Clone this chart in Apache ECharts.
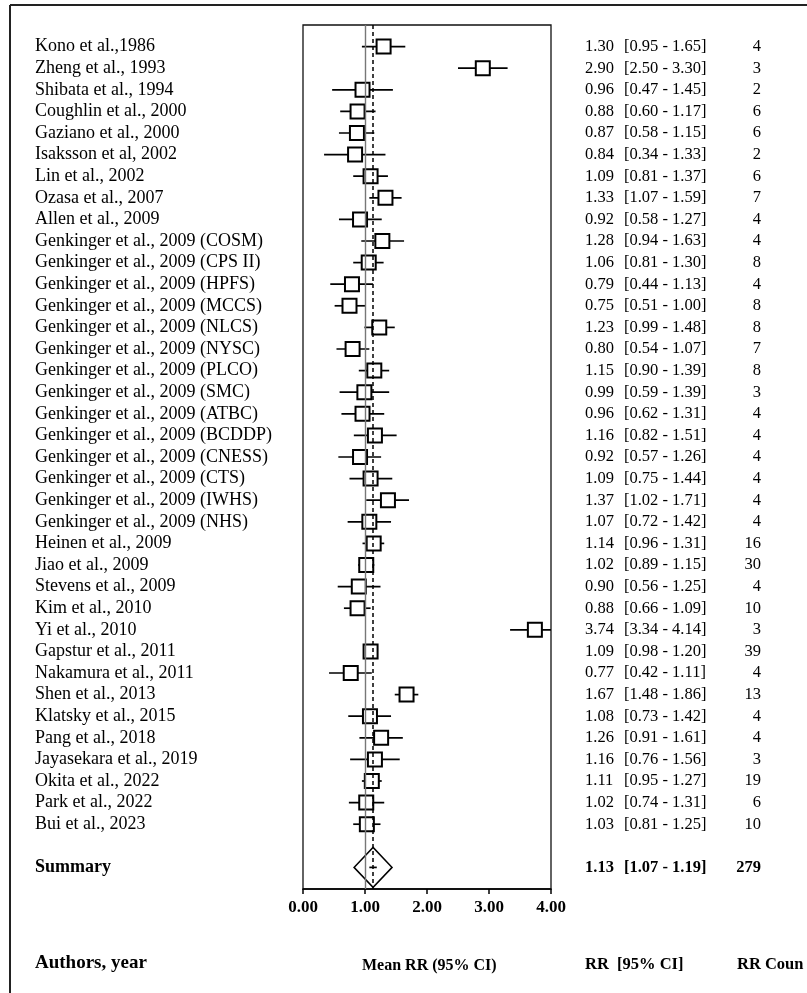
<!DOCTYPE html>
<html><head><meta charset="utf-8">
<script src="https://cdn.jsdelivr.net/npm/echarts@6/dist/echarts.min.js"></script>
<style>html,body{margin:0;padding:0;background:#fff}#c{width:807px;height:993px}</style>
</head><body><div id="c"></div>
<script>
const studies = ["Kono et al.,1986","Zheng et al., 1993","Shibata et al., 1994","Coughlin et al., 2000","Gaziano et al., 2000","Isaksson et al, 2002","Lin et al., 2002","Ozasa et al., 2007","Allen et al., 2009","Genkinger et al., 2009 (COSM)","Genkinger et al., 2009 (CPS II)","Genkinger et al., 2009 (HPFS)","Genkinger et al., 2009 (MCCS)","Genkinger et al., 2009 (NLCS)","Genkinger et al., 2009 (NYSC)","Genkinger et al., 2009 (PLCO)","Genkinger et al., 2009 (SMC)","Genkinger et al., 2009 (ATBC)","Genkinger et al., 2009 (BCDDP)","Genkinger et al., 2009 (CNESS)","Genkinger et al., 2009 (CTS)","Genkinger et al., 2009 (IWHS)","Genkinger et al., 2009 (NHS)","Heinen et al., 2009","Jiao et al., 2009","Stevens et al., 2009","Kim et al., 2010","Yi et al., 2010","Gapstur et al., 2011","Nakamura et al., 2011","Shen et al., 2013","Klatsky et al., 2015","Pang et al., 2018","Jayasekara et al., 2019","Okita et al., 2022","Park et al., 2022","Bui et al., 2023"];
const rr     = [1.30,2.90,0.96,0.88,0.87,0.84,1.09,1.33,0.92,1.28,1.06,0.79,0.75,1.23,0.80,1.15,0.99,0.96,1.16,0.92,1.09,1.37,1.07,1.14,1.02,0.90,0.88,3.74,1.09,0.77,1.67,1.08,1.26,1.16,1.11,1.02,1.03];
const ciLow  = [0.95,2.50,0.47,0.60,0.58,0.34,0.81,1.07,0.58,0.94,0.81,0.44,0.51,0.99,0.54,0.90,0.59,0.62,0.82,0.57,0.75,1.02,0.72,0.96,0.89,0.56,0.66,3.34,0.98,0.42,1.48,0.73,0.91,0.76,0.95,0.74,0.81];
const ciHigh = [1.65,3.30,1.45,1.17,1.15,1.33,1.37,1.59,1.27,1.63,1.30,1.13,1.00,1.48,1.07,1.39,1.39,1.31,1.51,1.26,1.44,1.71,1.42,1.31,1.15,1.25,1.09,4.14,1.20,1.11,1.86,1.42,1.61,1.56,1.27,1.31,1.25];
const counts = [4,3,2,6,6,2,6,7,4,4,8,4,8,8,7,8,3,4,4,4,4,4,4,16,30,4,10,3,39,4,13,4,4,3,19,6,10];
const summaryLabel = "Summary";
const summaryRR = 1.13, summaryLow = 1.07, summaryHigh = 1.19, summaryCount = 279;
const nullValue = 1.0;
const xTickValues = [0,1,2,3,4];
const headers = ["Authors, year","Mean RR (95% CI)","RR  [95% CI]","RR Coun"];

const summaryRow = studies.length + 1;
const FONT = '"Liberation Serif","Times New Roman",serif';
const fmt = v => v.toFixed(2);

const rows = studies.map((s,i)=>({name:s, rr:rr[i], lo:ciLow[i], hi:ciHigh[i], n:counts[i], row:i, bold:false}));
rows.push({name:summaryLabel, rr:summaryRR, lo:summaryLow, hi:summaryHigh, n:summaryCount, row:summaryRow, bold:true});

const chart = echarts.init(document.getElementById('c'), null, {renderer:'canvas'});
chart.setOption({
  animation:false,
  backgroundColor:'#fff',
  grid:{left:303, right:256, top:25, bottom:104, show:true, borderColor:'#111', borderWidth:1.3, backgroundColor:'transparent'},
  xAxis:{type:'value', min:xTickValues[0], max:xTickValues[xTickValues.length-1], interval:1,
    axisLine:{show:true, onZero:false, lineStyle:{color:'#000', width:1.5}},
    axisTick:{show:true, inside:false, length:5, lineStyle:{color:'#000', width:1.5}},
    splitLine:{show:false},
    axisLabel:{formatter:v=>fmt(v), fontFamily:FONT, fontWeight:'bold', fontSize:17, color:'#000', margin:10}},
  yAxis:{type:'value', inverse:true, min:-1, max:studies.length+2, interval:1, show:false},
  graphic:[
    {type:'line', shape:{x1:10,y1:5,x2:10,y2:993}, style:{stroke:'#222', lineWidth:2}},
    {type:'line', shape:{x1:10,y1:5,x2:807,y2:5}, style:{stroke:'#222', lineWidth:2}},
    {type:'text', left:35, top:954, style:{text:headers[0], font:'bold 19px '+FONT, fill:'#000'}},
    {type:'text', left:362, top:958, style:{text:headers[1], font:'bold 16px '+FONT, fill:'#000'}},
    {type:'text', left:585, top:956, style:{text:headers[2], font:'bold 16.5px '+FONT, fill:'#000'}},
    {type:'text', left:737, top:956, style:{text:headers[3], font:'bold 16.5px '+FONT, fill:'#000'}}
  ],
  series:[
    { // whiskers
      type:'custom', z:2, clip:true,
      data: rows.map(r=>[r.lo, r.hi, r.row]),
      encode:{x:[0,1], y:2},
      renderItem:(p,api)=>{
        const a = api.coord([api.value(0), api.value(2)]);
        const b = api.coord([api.value(1), api.value(2)]);
        return {type:'line', shape:{x1:a[0],y1:a[1],x2:b[0],y2:b[1]}, style:{stroke:'#000', lineWidth:1.7}};
      }
    },
    { // study squares
      type:'scatter', z:3, symbol:'rect', symbolSize:14,
      data: studies.map((s,i)=>[rr[i], i]),
      itemStyle:{color:'#fff', borderColor:'#000', borderWidth:2, opacity:1}
    },
    { // summary diamond
      type:'scatter', z:3, symbol:'diamond', symbolSize:[38,40],
      data:[[summaryRR, summaryRow]],
      itemStyle:{color:'rgba(255,255,255,0)', borderColor:'#000', borderWidth:1.5, opacity:1}
    },
    { // reference lines
      type:'scatter', z:5, data:[], symbolSize:0,
      markLine:{silent:true, symbol:'none', label:{show:false},
        data:[
          {xAxis:nullValue, lineStyle:{color:'#777', width:1.4, type:'solid'}},
          {xAxis:summaryRR, lineStyle:{color:'#000', width:1.5, type:[4,3]}}
        ]}
    },
    { // text columns
      type:'custom', z:6, clip:false,
      data: rows.map(r=>[0, r.row]),
      encode:{x:0, y:1},
      renderItem:(p,api)=>{
        const r = rows[p.dataIndex];
        const y = api.coord([0, r.row])[1];
        const w = r.bold ? 'bold ' : '';
        const f1 = w + '18px ' + FONT, f2 = w + '16.5px ' + FONT;
        return {type:'group', children:[
          {type:'text', style:{text:r.name, x:35, y:y, font:f1, fill:'#000', textVerticalAlign:'middle', textAlign:'left'}},
          {type:'text', style:{text:fmt(r.rr), x:585, y:y, font:f2, fill:'#000', textVerticalAlign:'middle', textAlign:'left'}},
          {type:'text', style:{text:'[' + fmt(r.lo) + ' - ' + fmt(r.hi) + ']', x:624, y:y, font:f2, fill:'#000', textVerticalAlign:'middle', textAlign:'left'}},
          {type:'text', style:{text:String(r.n), x:761, y:y, font:f2, fill:'#000', textVerticalAlign:'middle', textAlign:'right'}}
        ]};
      }
    }
  ]
});
</script></body></html>
